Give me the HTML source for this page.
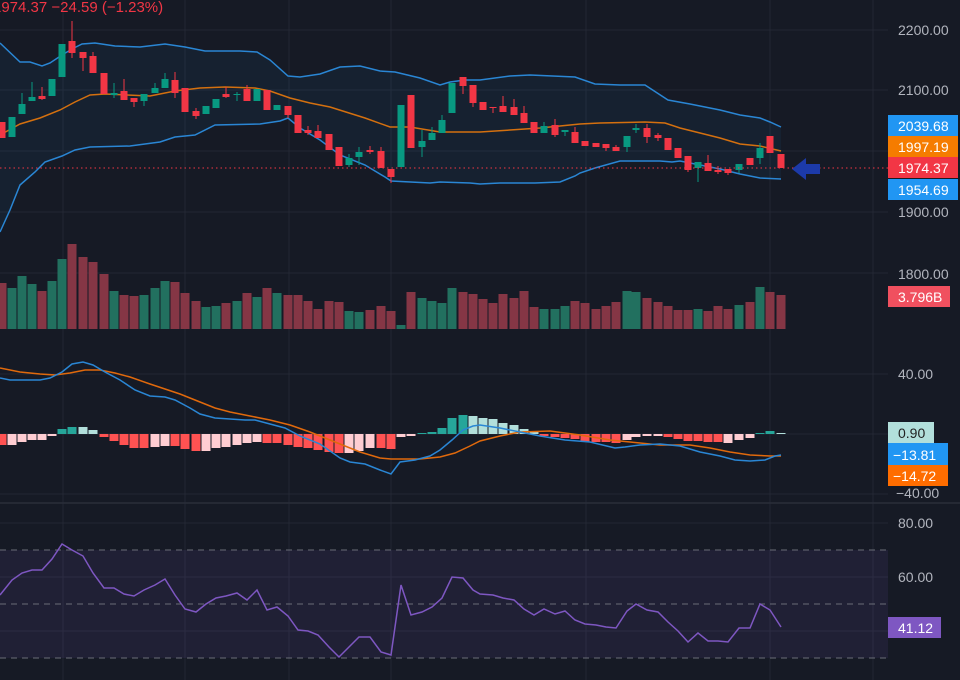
<!DOCTYPE html>
<html><head><meta charset="utf-8"><style>
html,body{margin:0;padding:0;background:#161a25;width:960px;height:680px;overflow:hidden}
svg{display:block}
text{font-family:"Liberation Sans",sans-serif;font-size:14px}
</style></head><body>
<svg id="s" width="960" height="680" xmlns="http://www.w3.org/2000/svg">
<rect width="960" height="680" fill="#161a25"/>
<g id="grid" stroke="#232734" stroke-width="1"></g>
<rect x="0" y="550" width="888" height="108" fill="#7e57c2" fill-opacity="0.1"/>
<g id="plot"></g>
<line x1="0" y1="503" x2="960" y2="503" stroke="#2a2e39" stroke-width="1.5"/>
<line x1="0" y1="168" x2="888" y2="168" stroke="#f23645" stroke-width="1" stroke-dasharray="1.5,3"/>
<polygon points="792,169 806,158 806,164 820,164 820,174 806,174 806,180" fill="#1c3aa9"/>
<g fill="#b2b5be">
<text x="898" y="35">2200.00</text>
<text x="898" y="95">2100.00</text>
<text x="898" y="217">1900.00</text>
<text x="898" y="279">1800.00</text>
<text x="898" y="379">40.00</text>
<text x="896" y="498">−40.00</text>
<text x="898" y="528">80.00</text>
<text x="898" y="582">60.00</text>
</g>
<rect x="888" y="115" width="70" height="21" fill="#2196f3"/>
<text x="898" y="131" fill="#fff">2039.68</text>
<rect x="888" y="136" width="70" height="21" fill="#f57c00"/>
<text x="898" y="152" fill="#fff">1997.19</text>
<rect x="888" y="157" width="70" height="21" fill="#f23645"/>
<text x="898" y="173" fill="#fff">1974.37</text>
<rect x="888" y="179" width="70" height="21" fill="#2196f3"/>
<text x="898" y="195" fill="#fff">1954.69</text>
<rect x="888" y="286" width="62" height="21" fill="#f0505f"/>
<text x="898" y="302" fill="#fff">3.796B</text>
<rect x="888" y="422" width="46" height="21" fill="#b2dfdb"/>
<text x="898" y="438" fill="#222">0.90</text>
<rect x="888" y="443" width="60" height="22" fill="#2196f3"/>
<text x="893" y="460" fill="#fff">−13.81</text>
<rect x="888" y="465" width="60" height="21" fill="#ff6d00"/>
<text x="893" y="481" fill="#fff">−14.72</text>
<rect x="888" y="617" width="53" height="21" fill="#7e57c2"/>
<text x="898" y="633" fill="#fff">41.12</text>
<text x="-7" y="12" fill="#f23645" style="font-size:15px">1974.37  −24.59 (−1.23%)</text>
</svg>
<script>
var NS="http://www.w3.org/2000/svg",g=document.getElementById('grid'),p=document.getElementById('plot');
function el(par,t,a){var e=document.createElementNS(NS,t);for(var k in a)e.setAttribute(k,a[k]);par.appendChild(e);return e;}
[30,90,151,212,273,374,434,494,523,577,631].forEach(function(y){el(g,'line',{x1:0,x2:888,y1:y,y2:y});});
[63,185,289,391,586,770,873].forEach(function(x){el(g,'line',{x1:x,x2:x,y1:0,y2:680});});
function pts(a){return a.map(function(q){return q.join(',')}).join(' ');}
var up=[[0,43],[20,62],[30,62],[42,66],[50,63],[62,55],[72,49],[82,44],[95,43],[115,46],[140,47],[165,44],[185,47],[205,51],[240,51],[257,52],[270,60],[288,76],[300,77],[320,74],[340,67],[360,66],[380,71],[395,72],[420,78],[440,85],[450,82],[465,80],[480,80],[510,76],[530,75],[575,77],[595,84],[620,85],[645,85],[668,100],[690,104],[720,110],[740,115],[760,118],[770,122],[781,127]];
var mid=[[0,135],[20,124],[40,118],[60,110],[75,102],[90,95],[105,94],[150,96],[175,91],[200,88],[225,87],[255,88],[270,91],[290,98],[310,103],[330,107],[365,118],[390,127],[410,127],[440,132],[480,132],[510,130],[540,128],[560,126],[580,124],[600,123],[645,122],[665,123],[680,128],[700,133],[720,138],[740,144],[760,146],[781,151]];
var lo=[[0,232],[10,210],[20,185],[35,172],[45,162],[62,156],[75,150],[90,147],[130,146],[160,142],[175,137],[195,135],[215,125],[260,124],[280,121],[288,118],[300,128],[320,140],[340,155],[365,165],[385,177],[391,181],[430,183],[440,182],[470,183],[480,184],[500,183],[535,183],[560,182],[575,176],[580,173],[595,168],[620,161],[640,161],[660,161],[672,162],[680,161],[700,165],[720,169],[740,174],[760,178],[781,179]];
el(p,'polygon',{points:pts(up.concat(lo.slice().reverse())),fill:'#2196f3','fill-opacity':0.06});
var vol=[[2,283,0],[12,288,1],[22,276,1],[32,284,1],[42,291,0],[52,281,1],[62,259,1],[72,244,0],[83,257,0],[93,262,0],[104,274,0],[114,291,1],[124,295,0],[134,296,0],[144,295,1],[155,288,1],[165,281,1],[175,282,0],[185,293,0],[196,301,0],[206,307,1],[216,306,1],[226,303,0],[237,301,1],[247,293,0],[257,297,1],[267,288,0],[277,293,1],[288,295,0],[298,295,0],[308,301,0],[318,309,0],[329,301,0],[339,302,0],[349,311,1],[359,312,1],[370,310,0],[381,306,0],[391,311,0],[401,325,1],[411,292,0],[422,298,1],[432,301,1],[442,303,1],[452,288,1],[463,292,0],[473,294,0],[483,299,0],[493,303,0],[503,294,0],[514,298,0],[524,291,0],[534,307,0],[544,309,1],[555,309,1],[565,306,1],[575,301,0],[585,303,0],[596,309,0],[606,306,0],[616,302,0],[627,291,1],[636,292,1],[647,298,0],[658,302,0],[668,306,0],[678,310,0],[688,310,0],[698,309,1],[708,311,0],[718,306,0],[728,309,0],[739,305,1],[750,302,0],[760,287,1],[770,292,0],[781,295,0]];
vol.forEach(function(v){el(p,'rect',{x:v[0]-4.5,y:v[1],width:9,height:329-v[1],fill:v[2]?'#22705f':'#853645'});});
el(p,'polyline',{points:pts(up),fill:'none',stroke:'#2a86d4','stroke-width':1.5});
el(p,'polyline',{points:pts(lo),fill:'none',stroke:'#2a86d4','stroke-width':1.5});
el(p,'polyline',{points:pts(mid),fill:'none',stroke:'#d4700f','stroke-width':1.5});
var c=[[2,122,138],[12,117,137,1],[22,104,114,1,93,114],[32,97,101,1,82,101],[42,96,99,0,87,100],[52,79,96,1],[62,44,77,1],[72,41,53,0,21,58],[83,52,58,0,52,71],[93,56,73,0,52,73],[104,73,94],[114,93,95,1,83,98],[124,91,100,0,79,100],[134,98,102,0,98,107],[144,94,101,1,94,106],[155,88,93,1,83,93],[165,79,88,1,73,88],[175,80,93,0,72,98],[185,88,112],[196,111,116,0,108,119],[206,106,114,1],[216,99,108,1],[226,94,97,0,87,98],[237,94,95,1,92,101],[247,89,101,0,85,101],[257,89,101,1],[267,90,110],[277,105,110,1],[288,106,115,0,106,118],[298,115,133],[308,130,133,0,126,135],[318,131,138,0,125,138],[329,134,150],[339,147,166],[349,158,165,1,154,167],[359,152,157,1,147,165],[370,150,152,0,146,154],[381,151,168,0,147,168],[391,169,177,0,169,183],[401,105,167,1],[411,95,148],[422,141,147,1,130,157],[432,133,140,1,127,140],[442,120,133,1,115,133],[452,83,113,1],[463,77,86,0,77,94],[473,85,103,0,85,107],[483,102,110],[493,107,108,0,107,113],[503,106,112,0,96,112],[514,107,115,0,99,115],[524,113,123,0,106,123],[534,122,133],[544,126,133,1,122,133],[555,125,135,0,119,137],[565,130,132,1,130,136],[575,132,143,0,127,143],[585,141,146],[596,143,147],[606,144,148,0,144,151],[616,147,151,0,145,151],[627,136,147,1,136,152],[636,128,130,1,124,133],[647,128,137,0,124,143],[658,135,138,0,133,141],[668,138,150],[678,148,158],[688,156,170,0,156,172],[698,162,168,1,162,182],[708,163,171,0,155,171],[718,170,172,0,166,174],[728,169,173,0,169,175],[739,164,170,1,164,173],[750,158,165],[760,148,158,1,143,164],[770,136,153],[781,154,168]];
c.forEach(function(d){var col=d[3]?'#089981':'#f23645';var wt=d[4]||d[1],wb=d[5]||d[2];
el(p,'line',{x1:d[0],x2:d[0],y1:wt,y2:wb,stroke:col,'stroke-width':1});
el(p,'rect',{x:d[0]-3.5,y:d[1],width:7,height:Math.max(1,d[2]-d[1]),fill:col});});
var h=[[445,0],[445,1],[442,1],[440,1],[440,1],[436,1],[429,2],[427,2],[427,3],[430,3],[437,0],[441,0],[445,0],[448,0],[448,0],[447,1],[446,1],[446,0],[449,0],[451,0],[451,1],[448,1],[447,1],[445,1],[443,1],[442,1],[443,0],[443,0],[445,0],[447,0],[448,0],[450,0],[452,0],[453,0],[453,1],[451,1],[448,1],[448,0],[449,0],[437,1],[436,1],[433,2],[432,2],[428,2],[418,2],[415,2],[416,3],[418,3],[419,3],[423,3],[425,3],[429,3],[432,3],[436,0],[437,0],[438,0],[439,0],[442,0],[442,0],[442,0],[443,0],[440,1],[437,1],[436,1],[436,1],[437,0],[439,0],[441,0],[441,0],[442,0],[442,0],[443,1],[440,1],[438,1],[433,2],[431,2],[433,3]];
var hc=['#ff5252','#ffcdd2','#26a69a','#b2dfdb'];
h.forEach(function(b,i){var x=c[i]?c[i][0]:2+i*10.1;var y1=Math.min(434,b[0]),y2=Math.max(434,b[0]);
el(p,'rect',{x:x-4.5,y:y1,width:9,height:Math.max(1,y2-y1),fill:hc[b[1]]});});
var ml=[[0,378],[10,380],[40,380],[50,378],[62,372],[72,364],[83,362],[93,365],[105,372],[120,380],[135,390],[150,396],[165,397],[175,400],[190,408],[200,414],[215,418],[245,420],[255,420],[270,424],[285,428],[300,436],[320,444],[340,458],[350,462],[365,464],[380,470],[391,474],[400,462],[415,460],[430,456],[440,450],[452,440],[463,430],[473,426],[480,425],[500,428],[520,432],[540,436],[565,440],[590,442],[615,448],[625,447],[640,445],[660,444],[680,446],[700,452],[720,456],[735,460],[750,461],[765,460],[775,456],[781,455]];
var sl=[[0,368],[20,372],[40,374],[55,375],[70,373],[85,370],[100,370],[115,373],[130,377],[150,384],[165,389],[180,394],[200,402],[215,408],[230,412],[250,416],[270,420],[290,425],[310,432],[325,438],[340,444],[360,452],[380,458],[391,459],[420,459],[440,457],[455,453],[470,446],[480,441],[500,436],[520,432],[550,431],[580,435],[610,440],[630,442],[660,445],[690,445],[710,448],[730,452],[750,455],[770,456],[781,456]];
el(p,'polyline',{points:pts(sl),fill:'none',stroke:'#e0690c','stroke-width':1.5});
el(p,'polyline',{points:pts(ml),fill:'none',stroke:'#2a86d4','stroke-width':1.5});
[550,604,658].forEach(function(y){el(p,'line',{x1:0,x2:888,y1:y,y2:y,stroke:'#6a6d78','stroke-dasharray':'6,5'});});
var rsi=[[0,595],[12,580],[22,573],[32,570],[42,570],[52,559],[62,544],[72,550],[83,556],[93,573],[104,588],[114,588],[124,594],[134,596],[144,590],[155,585],[165,579],[175,595],[185,609],[196,612],[206,604],[216,598],[226,596],[237,593],[247,600],[257,590],[267,610],[277,607],[288,616],[298,630],[308,631],[318,635],[329,647],[339,657],[349,647],[359,637],[370,637],[381,652],[391,655],[401,585],[411,615],[422,612],[432,607],[442,598],[452,577],[463,578],[473,590],[480,594],[493,595],[503,598],[514,600],[524,609],[534,615],[544,609],[555,614],[565,611],[575,620],[585,624],[596,625],[606,627],[616,628],[627,611],[636,604],[647,610],[658,612],[668,622],[678,631],[688,642],[698,633],[708,641],[718,641],[728,642],[739,628],[750,628],[760,604],[770,610],[781,627]];
el(p,'polyline',{points:pts(rsi),fill:'none',stroke:'#7e57c2','stroke-width':1.5});
</script>
</body></html>
